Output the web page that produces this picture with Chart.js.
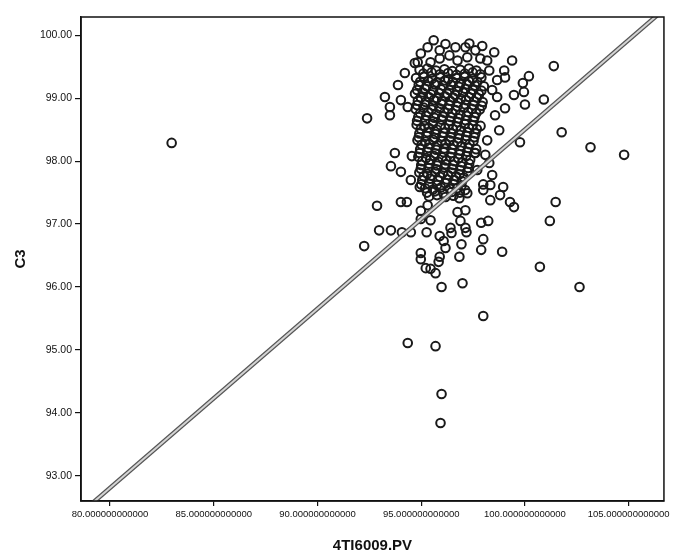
<!DOCTYPE html>
<html>
<head>
<meta charset="utf-8">
<script src="https://cdn.jsdelivr.net/npm/chart.js@4.4.1/dist/chart.umd.min.js"></script>
<style>
    html, body { margin: 0; padding: 0; background: #fff; }
    #wrap { width: 673px; height: 555px; position: relative; }
</style>
</head>
<body>
<div id="wrap"><canvas id="chart" width="673" height="555"></canvas></div>
<script>

// Axis ticks
const xTicks = [ 80, 85, 90, 95, 100, 105 ];
const yTicks = [ 93, 94, 95, 96, 97, 98, 99, 100 ];

// Scattered points around the cluster (4TI6009.PV, C3)
const outerX = [
    82.97, 95.98, 96.99, 102.63, 97.99, 94.35, 95.69, 95.98, 95.93, 93.73,
    93.54, 94.02, 94.55, 94.50, 94.93, 94.02, 94.31, 94.98, 95.31, 94.98,
    95.45, 94.07, 94.50, 95.26, 95.89, 96.08, 96.46, 96.41, 96.89, 96.75,
    97.13, 97.22, 96.84, 97.13, 97.18, 96.94, 96.84, 96.17, 95.89, 95.84,
    94.98, 94.98, 95.22, 95.45, 95.69, 97.89, 98.23, 97.99, 97.89, 98.90,
    98.33, 97.99, 97.99, 98.33, 98.95, 98.80, 99.28, 99.47, 101.48, 101.20,
    100.72, 98.42, 98.28, 97.70, 97.61, 101.39, 100.19, 99.90, 99.95, 100.00,
    100.91, 101.77, 103.16, 104.78, 99.76, 99.38, 98.52, 99.00, 99.04, 99.47,
    98.66, 99.04, 98.76, 98.28, 97.94, 97.85, 97.32, 97.13, 96.65, 97.22,
    96.75, 95.89, 95.89, 95.31, 94.98, 95.45, 94.83, 94.69, 94.21, 93.88,
    93.49, 94.02, 94.35, 93.25, 93.49, 92.39, 92.25, 92.87, 92.97, 93.54,
    96.17, 97.61, 96.36, 95.60, 98.18, 98.66, 98.42, 98.56, 98.18, 98.09
];
const outerY = [
    98.29, 96.00, 96.06, 96.00, 95.54, 95.11, 95.06, 94.30, 93.84, 98.13,
    97.92, 97.83, 98.08, 97.70, 97.59, 97.35, 97.35, 97.21, 97.30, 97.08,
    97.06, 96.87, 96.87, 96.87, 96.81, 96.73, 96.86, 96.94, 97.05, 97.19,
    97.22, 97.49, 97.41, 96.94, 96.87, 96.68, 96.48, 96.62, 96.48, 96.40,
    96.54, 96.44, 96.30, 96.29, 96.22, 97.02, 97.05, 96.76, 96.59, 96.56,
    97.38, 97.54, 97.63, 97.62, 97.59, 97.46, 97.35, 97.27, 97.35, 97.05,
    96.32, 97.78, 97.97, 97.86, 98.13, 99.51, 99.35, 99.24, 99.10, 98.90,
    98.98, 98.46, 98.22, 98.10, 98.30, 99.60, 99.73, 99.44, 99.33, 99.05,
    99.02, 98.84, 98.49, 99.44, 99.83, 99.63, 99.87, 99.81, 99.81, 99.65,
    99.60, 99.76, 99.63, 99.81, 99.71, 99.57, 99.57, 99.56, 99.40, 99.21,
    98.86, 98.97, 98.86, 99.02, 98.73, 98.68, 96.65, 97.29, 96.90, 96.90,
    99.86, 99.76, 99.68, 99.92, 99.60, 99.29, 99.13, 98.73, 98.33, 98.10
];

// Dense core of the cluster
const coreX = [
    94.92, 95.30, 95.71, 96.12, 96.50, 96.88, 97.30, 97.66,
    94.75, 95.12, 95.52, 95.90, 96.31, 96.69, 97.08, 97.47, 97.90,
    94.88, 95.27, 95.64, 96.05, 96.44, 96.82, 97.21, 97.59, 98.02,
    94.70, 95.08, 95.47, 95.86, 96.26, 96.63, 97.02, 97.40, 97.78,
    94.84, 95.22, 95.61, 96.01, 96.40, 96.77, 97.16, 97.55, 97.96,
    94.73, 95.12, 95.50, 95.88, 96.29, 96.66, 97.05, 97.44, 97.82,
    94.86, 95.25, 95.63, 96.04, 96.42, 96.80, 97.19, 97.57,
    94.78, 95.16, 95.55, 95.93, 96.33, 96.71, 97.10, 97.48, 97.86,
    94.91, 95.30, 95.68, 96.08, 96.46, 96.84, 97.22, 97.61,
    94.82, 95.20, 95.58, 95.97, 96.37, 96.75, 97.13, 97.52,
    94.95, 95.34, 95.72, 96.12, 96.50, 96.88, 97.26, 97.65,
    94.86, 95.24, 95.62, 96.00, 96.41, 96.79, 97.17,
    95.00, 95.38, 95.76, 96.17, 96.55, 96.92, 97.31,
    94.91, 95.29, 95.67, 96.05, 96.46, 96.84, 97.22,
    95.05, 95.43, 95.81, 96.24, 96.60, 96.97,
    95.19, 95.57, 95.95, 96.38, 96.74, 97.12,
    95.38, 95.76, 96.17, 96.55
];
const coreY = [
    99.45, 99.47, 99.44, 99.46, 99.43, 99.45, 99.47, 99.44,
    99.32, 99.34, 99.31, 99.33, 99.30, 99.32, 99.34, 99.31, 99.33,
    99.21, 99.19, 99.22, 99.20, 99.21, 99.18, 99.22, 99.20, 99.19,
    99.07, 99.09, 99.06, 99.08, 99.07, 99.05, 99.09, 99.07, 99.06,
    98.96, 98.94, 98.97, 98.95, 98.96, 98.93, 98.97, 98.95, 98.94,
    98.83, 98.85, 98.82, 98.84, 98.83, 98.81, 98.85, 98.83, 98.82,
    98.70, 98.72, 98.69, 98.71, 98.70, 98.68, 98.72, 98.70,
    98.58, 98.56, 98.59, 98.57, 98.58, 98.55, 98.59, 98.57, 98.56,
    98.44, 98.46, 98.43, 98.45, 98.44, 98.42, 98.46, 98.44,
    98.33, 98.31, 98.34, 98.32, 98.33, 98.30, 98.34, 98.32,
    98.19, 98.21, 98.18, 98.20, 98.19, 98.17, 98.21, 98.19,
    98.07, 98.05, 98.08, 98.06, 98.07, 98.04, 98.08,
    97.94, 97.96, 97.93, 97.95, 97.94, 97.92, 97.96,
    97.82, 97.80, 97.83, 97.81, 97.82, 97.79, 97.83,
    97.70, 97.72, 97.69, 97.71, 97.70, 97.68,
    97.57, 97.55, 97.58, 97.56, 97.57, 97.54,
    97.44, 97.46, 97.43, 97.45
];

// Second, staggered layer of the core
const innerX = [
    95.10, 95.50, 95.90, 96.30, 96.70, 97.10, 97.48, 97.85,
    94.95, 95.35, 95.75, 96.15, 96.52, 96.90, 97.30, 97.70,
    94.80, 95.18, 95.57, 95.95, 96.35, 96.74, 97.12, 97.50, 97.90,
    94.98, 95.37, 95.76, 96.15, 96.54, 96.92, 97.30, 97.68,
    94.80, 95.18, 95.57, 95.97, 96.36, 96.74, 97.13, 97.52, 97.92,
    94.95, 95.34, 95.72, 96.12, 96.50, 96.88, 97.26, 97.65,
    94.80, 95.20, 95.58, 95.98, 96.38, 96.76, 97.14, 97.52,
    94.98, 95.36, 95.75, 96.14, 96.52, 96.90, 97.30, 97.68,
    94.88, 95.26, 95.64, 96.03, 96.42, 96.80, 97.18, 97.56,
    95.02, 95.40, 95.78, 96.18, 96.56, 96.94, 97.33,
    94.92, 95.30, 95.68, 96.08, 96.46, 96.84, 97.22, 97.58,
    95.05, 95.43, 95.82, 96.20, 96.60, 96.98, 97.36,
    94.98, 95.36, 95.74, 96.12, 96.50, 96.88, 97.26,
    95.12, 95.50, 95.90, 96.30, 96.68, 97.06,
    95.00, 95.38, 95.76, 96.16, 96.56, 96.94,
    95.28, 95.66, 96.06, 96.46, 96.86
];
const innerY = [
    99.39, 99.41, 99.38, 99.40, 99.37, 99.39, 99.41, 99.38,
    99.26, 99.27, 99.25, 99.28, 99.26, 99.24, 99.27, 99.26,
    99.13, 99.15, 99.12, 99.14, 99.13, 99.11, 99.15, 99.13, 99.12,
    99.01, 99.02, 99.00, 99.03, 99.01, 98.99, 99.02, 99.01,
    98.89, 98.90, 98.88, 98.91, 98.89, 98.87, 98.90, 98.89, 98.88,
    98.76, 98.78, 98.75, 98.77, 98.76, 98.74, 98.78, 98.76,
    98.64, 98.65, 98.63, 98.66, 98.64, 98.62, 98.65, 98.64,
    98.51, 98.53, 98.50, 98.52, 98.51, 98.49, 98.53, 98.51,
    98.38, 98.40, 98.37, 98.39, 98.38, 98.36, 98.40, 98.38,
    98.26, 98.27, 98.25, 98.28, 98.26, 98.24, 98.27,
    98.13, 98.15, 98.12, 98.14, 98.13, 98.11, 98.15, 98.13,
    98.00, 98.02, 97.99, 98.01, 98.00, 97.98, 98.02,
    97.88, 97.89, 97.87, 97.90, 97.88, 97.86, 97.89,
    97.76, 97.77, 97.75, 97.78, 97.76, 97.74,
    97.63, 97.64, 97.62, 97.65, 97.63, 97.61,
    97.50, 97.52, 97.49, 97.51, 97.50
];

// Fit line end points
const fitX = [ 78.6, 106.7 ];
const fitY = [ 92.41, 100.41 ];

/**
 * Zips two value arrays into Chart.js {x, y} points.
 */
function toPoints ( xs, ys ) {

    return xs.map( ( x, i ) => ( { x: x, y: ys[ i ] } ) );

}

// Draws the closed box around the plot area
const frame = {
    id: 'frame',
    afterDatasetsDraw ( chart ) {

        const { ctx, chartArea: a } = chart;

        ctx.save();
        ctx.strokeStyle = '#111';
        ctx.lineWidth = 1.5;
        ctx.strokeRect( a.left, a.top, a.right - a.left, a.bottom - a.top );
        ctx.restore();

    }
};

const tickFont = { family: '"Liberation Sans", Arial, sans-serif', size: 9.5 };
const titleFont = { family: '"Liberation Sans", Arial, sans-serif', size: 15, weight: 'bold' };

const points = [
    ...toPoints( outerX, outerY ),
    ...toPoints( coreX, coreY ),
    ...toPoints( innerX, innerY )
];

new Chart( document.getElementById( 'chart' ).getContext( '2d' ), {
    type: 'scatter',
    data: {
        datasets: [ {
            type: 'line',
            data: toPoints( fitX, fitY ),
            borderColor: '#d4d4d4',
            borderWidth: 2,
            pointRadius: 0,
            order: 0
        }, {
            type: 'line',
            data: toPoints( fitX, fitY ),
            borderColor: '#555',
            borderWidth: 4.5,
            pointRadius: 0,
            order: 1
        }, {
            data: points,
            pointRadius: 4.3,
            pointBorderWidth: 2,
            pointBorderColor: '#1a1a1a',
            pointBackgroundColor: 'rgba(0,0,0,0)',
            order: 2
        } ]
    },
    options: {
        responsive: false,
        animation: false,
        layout: { padding: { top: 17, right: 5, left: 0, bottom: 0 } },
        plugins: { legend: { display: false }, tooltip: { enabled: false } },
        scales: {
            x: {
                type: 'linear',
                min: 78.6,
                max: 106.7,
                afterBuildTicks: s => { s.ticks = xTicks.map( v => ( { value: v } ) ); },
                afterFit: s => { s.height = 54; },
                border: { display: true, color: '#111', width: 1.5 },
                grid: { display: true, drawOnChartArea: false, drawTicks: true, tickLength: 5, color: '#111', lineWidth: 1.2 },
                ticks: {
                    color: '#111',
                    font: tickFont,
                    padding: 3,
                    maxRotation: 0,
                    autoSkip: false,
                    callback: v => Number( v ).toFixed( 12 )
                },
                title: { display: true, text: '4TI6009.PV', color: '#111', font: titleFont, padding: { top: 12, bottom: 0 } }
            },
            y: {
                type: 'linear',
                min: 92.6,
                max: 100.29,
                afterBuildTicks: s => { s.ticks = yTicks.map( v => ( { value: v } ) ); },
                afterFit: s => { s.width = 81; },
                border: { display: true, color: '#111', width: 1.5 },
                grid: { display: true, drawOnChartArea: false, drawTicks: true, tickLength: 6, color: '#111', lineWidth: 1.2 },
                ticks: {
                    color: '#111',
                    font: { family: tickFont.family, size: 10.5 },
                    padding: 3,
                    autoSkip: false,
                    callback: v => Number( v ).toFixed( 2 )
                },
                title: { display: true, text: 'C3', color: '#111', font: titleFont, padding: { top: 12, bottom: 0 } }
            }
        }
    },
    plugins: [ frame ]
} );

</script>
</body>
</html>
